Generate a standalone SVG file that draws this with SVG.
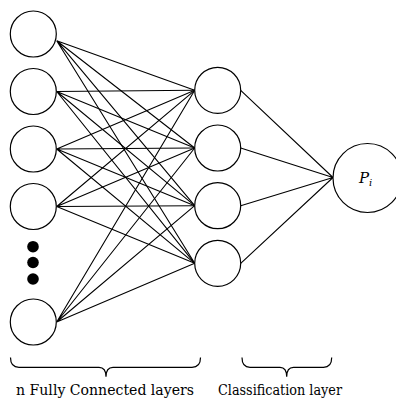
<svg xmlns="http://www.w3.org/2000/svg" width="396" height="403" viewBox="0 0 396 403">
<style>
.n{fill:#fff;stroke:#000;stroke-width:1.2}
.c{stroke:#000;stroke-width:1.1;fill:none}
.b{stroke:#000;stroke-width:1.2;fill:none}
text{fill:#000;font-family:"DejaVu Serif","Liberation Serif",serif}
</style>
<rect width="396" height="403" fill="#fff"/>
<g id="connectors" class="c">
<path d="M56.7 40.7L194.7 90.3M56.7 40.7L194.7 148M56.7 40.7L194.7 205.7M56.7 40.7L194.7 263.3"/>
<path d="M56.7 91.5L194.7 90.3M56.7 91.5L194.7 148M56.7 91.5L194.7 205.7M56.7 91.5L194.7 263.3"/>
<path d="M56.7 149L194.7 90.3M56.7 149L194.7 148M56.7 149L194.7 205.7M56.7 149L194.7 263.3"/>
<path d="M56.7 206.5L194.7 90.3M56.7 206.5L194.7 148M56.7 206.5L194.7 205.7M56.7 206.5L194.7 263.3"/>
<path d="M56.7 322L194.7 90.3M56.7 322L194.7 148M56.7 322L194.7 205.7M56.7 322L194.7 263.3"/>
<path d="M240.7 90.3L333 177.5M240.7 148L333 177.5M240.7 205.7L333 177.5M240.7 263.3L333 177.5"/>
</g>
<g id="in1"><circle class="n" cx="33.3" cy="34" r="23"/></g>
<g id="in2"><circle class="n" cx="33.3" cy="91.5" r="23"/></g>
<g id="in3"><circle class="n" cx="33.3" cy="149" r="23"/></g>
<g id="in4"><circle class="n" cx="33.3" cy="206.5" r="23"/></g>
<g id="dots"><circle cx="33" cy="246.7" r="5.8"/><circle cx="33" cy="262.5" r="5.8"/><circle cx="33" cy="279" r="5.8"/></g>
<g id="in5"><circle class="n" cx="33.3" cy="322" r="23"/></g>
<g id="h1"><circle class="n" cx="217.7" cy="90.3" r="23"/></g>
<g id="h2"><circle class="n" cx="217.7" cy="148" r="23"/></g>
<g id="h3"><circle class="n" cx="217.7" cy="205.7" r="23"/></g>
<g id="h4"><circle class="n" cx="217.7" cy="263.3" r="23"/></g>
<g id="out"><circle class="n" cx="367.5" cy="178" r="34.5"/>
<text x="359" y="183" font-size="15" font-style="italic">P<tspan font-size="10" dy="3">i</tspan></text></g>
<g id="brace1"><path class="b" d="M10.5 357.5Q10.5 367.3 19 367.3L99 367.3Q106 367.3 106 376.7Q106 367.3 113 367.3L192 367.3Q200.5 367.3 200.5 357.5"/>
<text x="105" y="395" font-size="15.5" text-anchor="middle" textLength="178" lengthAdjust="spacingAndGlyphs">n Fully Connected layers</text></g>
<g id="brace2"><path class="b" d="M242 357.5Q242 367.3 250 367.3L280 367.3Q286.7 367.3 286.7 376.7Q286.7 367.3 293.5 367.3L323.5 367.3Q331.7 367.3 331.7 357.5"/>
<text x="280" y="395" font-size="15.5" text-anchor="middle" textLength="124" lengthAdjust="spacingAndGlyphs">Classification layer</text></g>
</svg>
